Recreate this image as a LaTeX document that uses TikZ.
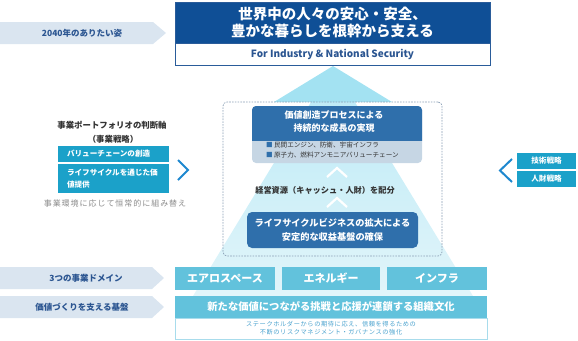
\documentclass[tikz,border=0pt]{standalone}
\usepackage{fontspec}
\setmainfont{Noto Sans CJK JP}
\newcommand{\fsz}[2]{\fontsize{#1}{#2}\selectfont}
\definecolor{topblue}{HTML}{0F4F96}
\definecolor{topline}{HTML}{2A5C9A}
\definecolor{labelbg}{HTML}{DAE5F0}
\definecolor{labeltx}{HTML}{2B5591}
\definecolor{domain}{HTML}{62C2DC}
\definecolor{strat}{HTML}{1BA1C9}
\definecolor{content}{HTML}{2F6FAB}
\definecolor{contentlt}{HTML}{C6D6E4}
\definecolor{triwide}{HTML}{A3E2F2}
\definecolor{tritop}{HTML}{B8E9F6}
\definecolor{tribot}{HTML}{E2F5FA}
\definecolor{dashc}{HTML}{8A9FB5}
\definecolor{chev}{HTML}{1E88CF}
\definecolor{subtx}{HTML}{4BA3CF}
\definecolor{subline}{HTML}{A8DCEC}
\definecolor{graytx}{HTML}{8A8A8A}
\definecolor{darktx}{HTML}{333333}
\tikzset{
  every node/.style={inner sep=0pt, outer sep=0pt},
  lbl/.style={text=labeltx, font=\fsz{8.5}{10}\bfseries},
  pent/.style={fill=labelbg},
  dom/.style={fill=domain, text=white, font=\fsz{11}{13}\bfseries, minimum height=23pt},
  sbox/.style={fill=strat, text=white, font=\fsz{7.6}{12}\bfseries},
  chevline/.style={draw=chev, line width=2pt},
  upchev/.style={draw=white, line width=2.2pt},
}
\begin{document}
\begin{tikzpicture}[x=1pt,y=-1pt]
\useasboundingbox (0,0) rectangle (578,340);
% triangles
\shade[top color=tritop, bottom color=tribot] (333,66) -- (473,296) -- (193,296) -- cycle;
\fill[triwide] (333,66) -- (392,102) -- (274,102) -- cycle;
% top vision box
\node[draw=topline, fill=topblue, line width=0.8pt, minimum width=315pt, minimum height=41pt, anchor=north west, text=white, font=\fsz{14.5}{17}\bfseries, align=center] (vision) at (175,2) {世界中の人々の安心・安全、\\豊かな暮らしを根幹から支える};
\node[draw=topline, fill=white, line width=0.8pt, minimum width=315pt, minimum height=22pt, anchor=north west, text=labeltx, font=\fsz{10}{12}\bfseries] (vsub) at (175,43) {For Industry \& National Security};
% left pentagon labels
\fill[pent] (0,22) -- (153,22) -- (166,33) -- (153,44) -- (0,44) -- cycle;
\node[lbl] (l1) at (82,33) {2040年のありたい姿};
\fill[pent] (0,267) -- (152,267) -- (164,278) -- (152,289) -- (0,289) -- cycle;
\node[lbl] (l2) at (86,278) {3つの事業ドメイン};
\fill[pent] (0,296) -- (152,296) -- (164,307) -- (152,318) -- (0,318) -- cycle;
\node[lbl] (l3) at (82,307) {価値づくりを支える基盤};
% dashed frame
\node[draw=dashc, dash pattern=on 1.6pt off 1.2pt, line width=0.7pt, rounded corners=4pt, minimum width=219pt, minimum height=154pt, anchor=north west] (frame) at (223,102) {};
% value creation box
\fill[contentlt, rounded corners=4pt] (252,106) rectangle (422,163);
\begin{scope}
\clip (250,100) rectangle (424,140);
\fill[content, rounded corners=4pt] (252,106) rectangle (422,163);
\end{scope}
\node[text=white, font=\fsz{9}{12.5}\bfseries, align=center] (vc) at (334,121.5) {価値創造プロセスによる\\持続的な成長の実現};
\node[anchor=west, text=darktx, font=\fsz{6.6}{10}, align=left] (vcb) at (266,150) {\textcolor{content}{■} 民間エンジン、防衛、宇宙インフラ\\\textcolor{content}{■} 原子力、燃料アンモニアバリューチェーン};
% up chevrons and allocation
\draw[upchev] (327,177) -- (337,168) -- (347,177);
\node[text=darktx, font=\fsz{8.2}{10}\bfseries] (alloc) at (325,190) {経営資源（キャッシュ・人財）を配分};
\draw[upchev] (327,207) -- (337,198) -- (347,207);
% lifecycle box
\node[fill=content, rounded corners=5pt, minimum width=171pt, minimum height=36pt, anchor=north west, text=white, font=\fsz{9.2}{14}\bfseries, align=center] (life) at (247,212) {ライフサイクルビジネスの拡大による\\安定的な収益基盤の確保};
% domains
\node[dom, minimum width=100pt] (aero) at (225,278.5) {エアロスペース};
\node[dom, minimum width=98pt] (ener) at (331,278.5) {エネルギー};
\node[dom, minimum width=100pt] (infra) at (437,278.5) {インフラ};
% foundation
\node[fill=domain, text=white, font=\fsz{10.3}{12}\bfseries, minimum width=312pt, minimum height=22pt] (culture) at (331,307) {新たな価値につながる挑戦と応援が連鎖する組織文化};
\node[draw=subline, fill=white, line width=0.6pt, minimum width=312pt, minimum height=21pt, text=subtx, font=\fsz{6.2}{8.2}\addfontfeatures{LetterSpace=10}, align=center] (gov) at (331,328.5) {ステークホルダーからの期待に応え、信頼を得るための\\不断のリスクマネジメント・ガバナンスの強化};
% portfolio
\node[text=darktx, font=\fsz{8.4}{10}\bfseries] (pf) at (112,125) {事業ポートフォリオの判断軸};
\node[text=darktx, font=\fsz{8.4}{10}\bfseries] (pf2) at (113,139) {（事業戦略）};
\node[sbox, minimum width=111pt, minimum height=16pt, anchor=north west, inner xsep=9pt, text width=93pt, align=left] (vchain) at (58,146) {バリューチェーンの創造};
\node[sbox, minimum width=111pt, minimum height=29pt, anchor=north west, inner xsep=9pt, text width=93pt, align=left] (lcv) at (58,164) {ライフサイクルを通じた価\\値提供};
\node[text=graytx, font=\fsz{8}{10}\addfontfeatures{LetterSpace=12}] (env) at (115,203) {事業環境に応じて恒常的に組み替え};
\draw[chevline] (178,160) -- (188,170) -- (178,180);
% right strategies
\draw[chevline] (512,159) -- (500,170.5) -- (512,182);
\node[sbox, minimum width=59pt, minimum height=16pt] (tech) at (546.5,161) {技術戦略};
\node[sbox, minimum width=59pt, minimum height=16pt] (hr) at (546.5,179) {人財戦略};
\end{tikzpicture}
\end{document}
